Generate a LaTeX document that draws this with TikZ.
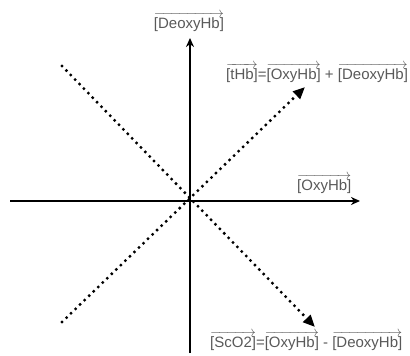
\documentclass[tikz,border=0pt]{standalone}
\usepackage{amsmath}
\usepackage{fontspec}
\setmainfont{Liberation Sans}
\usetikzlibrary{arrows.meta}
\newcommand{\vecterm}[1]{$\overrightarrow{\mbox{#1}}$}
\begin{document}
\begin{tikzpicture}[
      x=1pt, y=-1pt,
      achse/.style={-{Stealth[length=9pt, width=8pt]}, line width=1.6pt},
      punktlinie/.style={line width=3.3pt, line cap=round, dash pattern=on 0pt off 6.3pt},
      spitze/.style={-{Triangle[length=12pt, width=10pt]}},
      beschriftung/.style={inner sep=0pt, text=black!65, font=\fontsize{15}{18}\selectfont}
    ]
      \useasboundingbox (0,0) rectangle (410,356);
      % Achsen
      \coordinate (ursprung) at (190,201);
      \coordinate (xlinks) at (10,201);
      \coordinate (xrechts) at (360,201);
      \coordinate (yunten) at (190,353);
      \coordinate (yoben) at (190,38);
      \draw[achse] (xlinks) -- (xrechts);
      \draw[achse] (yunten) -- (yoben);
      % Diagonalen
      \coordinate (ul) at (62,66);
      \coordinate (ll) at (62,322);
      \coordinate (ur) at (305,87);
      \coordinate (lr) at (315,327);
      \draw[punktlinie, spitze] (ll) -- (ur);
      \draw[punktlinie, spitze] (ul) -- (lr);
      % Beschriftungen
      \node[beschriftung, anchor=base] (deoxy) at (189,28) {\vecterm{[DeoxyHb]}};
      \node[beschriftung, anchor=base west] (thb) at (226,79) {\vecterm{[tHb]}=\vecterm{[OxyHb]} + \vecterm{[DeoxyHb]}};
      \node[beschriftung, anchor=base west] (oxy) at (297,190) {\vecterm{[OxyHb]}};
      \node[beschriftung, anchor=base west] (sco) at (210,347) {\vecterm{[ScO2]}=\vecterm{[OxyHb]} - \vecterm{[DeoxyHb]}};
    \end{tikzpicture}
\end{document}
